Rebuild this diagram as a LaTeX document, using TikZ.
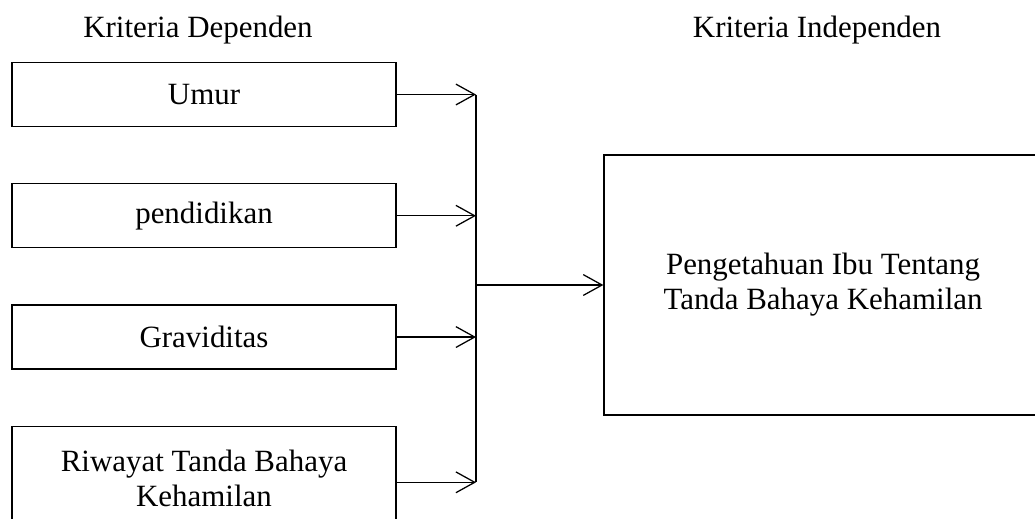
\documentclass[tikz,border=0pt]{standalone}
\usepackage{fontspec}
\setmainfont{Liberation Serif}
\usetikzlibrary{positioning, arrows.meta}
\tikzset{
  critbox/.style = {rectangle, draw, line width=0.9pt, minimum width=9.6cm,
                    minimum height=1.6cm, align=center, inner sep=0pt,
                    font=\fontsize{22}{25}\selectfont},
  crithead/.style = {anchor=base, font=\fontsize{22}{25}\selectfont},
  critarrow/.style = {-{Straight Barb[length=0.47cm, width=0.52cm]}, line width=0.9pt}
}

\begin{document}
\begin{tikzpicture}[node distance=1.4cm]
\clip (0,0) rectangle (25.875,-12.95);
\node[crithead] (hdep) at (4.95,-0.925) {Kriteria Dependen};
\node[crithead] (hind) at (20.425,-0.925) {Kriteria Independen};

\node[critbox] (umur) at (5.1,-2.3625) {Umur};
\node[critbox, below=of umur] (pend) {pendidikan};
\node[critbox, below=of pend] (grav) {Graviditas};
\node[critbox, below=of grav, minimum height=2.6cm] (riw) {Riwayat Tanda Bahaya\\Kehamilan};
\node[critbox, minimum width=10.95cm, minimum height=6.5cm] (tahu) at (20.575,-7.125)
  {Pengetahuan Ibu Tentang\\Tanda Bahaya Kehamilan};

% junction line
\coordinate (jx) at (11.9,0);
\foreach \b in {umur, pend, grav}
  \draw[critarrow] (\b.east) -- (\b.east -| jx);
\draw[critarrow] ([yshift=-0.1cm]riw.east) -- ([yshift=-0.1cm]riw.east -| jx);
\draw[line width=1.4pt] (umur.east -| jx) -- ([yshift=-0.1cm]riw.east -| jx);
\draw[critarrow] (tahu.west -| jx) -- (tahu.west);
\end{tikzpicture}
\end{document}
